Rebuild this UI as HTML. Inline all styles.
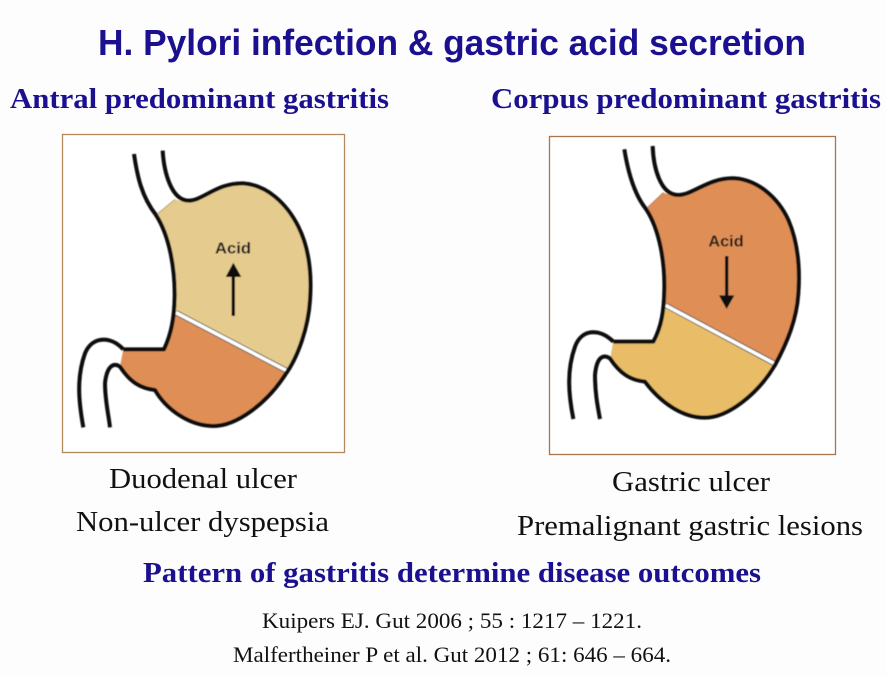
<!DOCTYPE html>
<html><head><meta charset="utf-8"><style>
html,body{margin:0;padding:0;background:#fdfdfd}
svg{display:block}
.h{font-family:"Liberation Sans",sans-serif;font-weight:bold;fill:#1a1090}
.s{font-family:"Liberation Serif",serif;font-weight:bold;fill:#1a1090}
.t{font-family:"Liberation Serif",serif;fill:#111}
.o{fill:none;stroke:#0a0a0a;stroke-width:12;stroke-linecap:butt;stroke-linejoin:round}
.a{font-family:"Liberation Sans",sans-serif;font-weight:bold;fill:#1a1a1a;font-size:48px}
</style></head><body>
<svg width="886" height="675" viewBox="0 0 886 675" xmlns="http://www.w3.org/2000/svg">
<defs><filter id="b" x="-5%" y="-5%" width="110%" height="110%"><feGaussianBlur stdDeviation="1.2"/></filter></defs>
<rect width="886" height="675" fill="#fdfdfd"/>
<text class="h" x="98" y="55" font-size="36" textLength="708" lengthAdjust="spacingAndGlyphs">H. Pylori infection &amp; gastric acid secretion</text>
<text class="s" x="10" y="108" font-size="29" textLength="379" lengthAdjust="spacingAndGlyphs">Antral predominant gastritis</text>
<text class="s" x="491" y="108" font-size="29" textLength="390" lengthAdjust="spacingAndGlyphs">Corpus predominant gastritis</text>

<rect x="62.5" y="134.5" width="282" height="318" fill="#fff" stroke="#b08a5a" stroke-width="1.3"/>
<rect x="549.5" y="136.5" width="286" height="318" fill="#fff" stroke="#a9744a" stroke-width="1.3"/>

<g transform="translate(60 130) scale(.33333)"><g filter="url(#b)">
<path fill="#e6cb8f" d="M288 255 L345 208 C355 212 375 212 385 212 C430 212 470 158 550 160 C620 165 680 220 715 290 C750 360 755 440 750 510 C745 590 715 680 675 735 L345 545 C345 530 345 515 344 500 C345 420 330 320 288 255Z"/>
<path fill="#df8f57" d="M345 555 L675 728 C620 820 530 888 460 888 C390 888 320 840 285 780 C240 775 210 755 180 708 L190 658 L312 658 C335 610 343 590 345 555Z"/>
<path d="M348 548 L680 722" stroke="#444" stroke-width="16" fill="none"/>
<path d="M348 548 L680 722" stroke="#fff" stroke-width="11" fill="none"/>
<path d="M288 255 L345 208" stroke="#b9a46e" stroke-width="3" fill="none"/>
<path class="o" d="M222 72 C232 140 245 200 288 255 C330 320 345 420 344 500 C343 560 335 610 312 658 L190 658"/>
<path class="o" d="M308 62 C312 130 335 210 385 212 C430 212 470 158 550 160 C620 165 680 220 715 290 C750 360 755 440 750 510 C745 590 715 680 675 735 C620 820 530 888 460 888 C390 888 320 840 285 780 C240 775 210 755 180 710 C160 695 140 710 135 760 C135 810 145 850 150 892"/>
<path class="o" d="M70 892 C55 810 50 740 75 670 C95 620 150 615 190 658"/>
<text class="a" x="465" y="370" textLength="108" lengthAdjust="spacingAndGlyphs">Acid</text>
<path d="M520 558V430" stroke="#0a0a0a" stroke-width="10"/>
<path d="M497 441 L520 398 L544 441Z" fill="#0a0a0a"/>
</g></g>

<g transform="translate(545 130) scale(.33333)"><g filter="url(#b)">
<path fill="#df8f57" d="M303 237 L355 188 C365 192 385 195 400 195 C445 195 490 142 570 145 C640 150 700 205 730 270 C760 340 765 420 760 490 C755 570 725 640 690 705 L360 525 C358 510 358 495 358 480 C360 400 345 300 303 237Z"/>
<path fill="#e9bc68" d="M360 532 L688 708 C640 790 550 863 480 863 C410 863 345 815 300 755 C255 750 225 730 195 685 L205 635 L325 635 C350 590 357 560 360 532Z"/>
<path d="M362 526 L691 702" stroke="#444" stroke-width="16" fill="none"/>
<path d="M362 526 L691 702" stroke="#fff" stroke-width="11" fill="none"/>
<path d="M303 237 L355 188" stroke="#b9855a" stroke-width="3" fill="none"/>
<path class="o" d="M238 58 C248 120 265 190 303 237 C345 300 360 400 358 480 C357 540 350 590 325 635 L205 635"/>
<path class="o" d="M323 48 C325 110 345 195 400 195 C445 195 490 142 570 145 C640 150 700 205 730 270 C760 340 765 420 760 490 C755 570 725 640 690 705 C640 790 550 863 480 863 C410 863 345 815 300 755 C255 750 225 730 195 685 C175 672 155 680 150 735 C150 790 158 830 165 867"/>
<path class="o" d="M85 867 C70 790 65 720 90 650 C110 595 165 595 205 635"/>
<text class="a" x="490" y="350" textLength="106" lengthAdjust="spacingAndGlyphs">Acid</text>
<path d="M545 378V505" stroke="#0a0a0a" stroke-width="10"/>
<path d="M522 496 L545 537 L568 496Z" fill="#0a0a0a"/>
</g></g>

<text class="t" x="109" y="488" font-size="29" textLength="188" lengthAdjust="spacingAndGlyphs">Duodenal ulcer</text>
<text class="t" x="76" y="531" font-size="29" textLength="253" lengthAdjust="spacingAndGlyphs">Non-ulcer dyspepsia</text>
<text class="t" x="612" y="491" font-size="29" textLength="158" lengthAdjust="spacingAndGlyphs">Gastric ulcer</text>
<text class="t" x="517" y="535" font-size="29" textLength="346" lengthAdjust="spacingAndGlyphs">Premalignant gastric lesions</text>
<text class="s" x="143" y="582" font-size="29" textLength="618" lengthAdjust="spacingAndGlyphs">Pattern of gastritis determine disease outcomes</text>
<text class="t" x="262" y="628" font-size="22" textLength="380" lengthAdjust="spacingAndGlyphs">Kuipers EJ. Gut 2006 ; 55 : 1217 – 1221.</text>
<text class="t" x="233" y="662" font-size="22" textLength="438" lengthAdjust="spacingAndGlyphs">Malfertheiner P et al. Gut 2012 ; 61: 646 – 664.</text>
</svg>
</body></html>
